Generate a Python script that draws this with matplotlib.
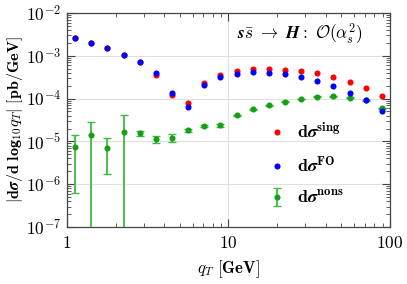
import numpy as np
import matplotlib
matplotlib.use("Agg")
import matplotlib.pyplot as plt

plt.rcParams['mathtext.fontset'] = 'cm'
plt.rcParams['font.family'] = 'serif'
plt.rcParams['font.serif'] = ['DejaVu Serif']

# bin centres in q_T [GeV]
qt = [1.122, 1.413, 1.778, 2.239, 2.818, 3.548, 4.467, 5.623, 7.079, 8.913,
      11.22, 14.13, 17.78, 22.39, 28.18, 35.48, 44.67, 56.23, 70.79, 89.13]

sing = [2.57e-3, 2.0e-3, 1.49e-3, 1.04e-3, 7.0e-4, 3.6e-4, 1.21e-4, 8.0e-5, 2.35e-4, 3.56e-4,
        4.4e-4, 4.8e-4, 4.9e-4, 4.7e-4, 4.3e-4, 3.9e-4, 3.15e-4, 2.5e-4, 1.8e-4, 1.13e-4]

fo = [2.57e-3, 2.0e-3, 1.49e-3, 1.04e-3, 7.0e-4, 3.9e-4, 1.33e-4, 6.2e-5, 2.1e-4, 3.15e-4,
      3.8e-4, 4.1e-4, 4.0e-4, 3.76e-4, 3.25e-4, 2.6e-4, 2.0e-4, 1.37e-4, 9.3e-5, 5.2e-5]

nons = [7.6e-6, 1.4e-5, 7.1e-6, 1.62e-5, 1.54e-5, 1.14e-5, 1.23e-5, 1.85e-5, 2.33e-5, 2.38e-5,
        4.1e-5, 5.6e-5, 7.0e-5, 8.5e-5, 9.8e-5, 1.1e-4, 1.13e-4, 1.05e-4, 9.1e-5, 5.9e-5]

nons_lo = [6.3e-7, 1e-8, 1.76e-6, 1e-8, 1.36e-5, 9.0e-6, 9.9e-6, 1.7e-5, 2.2e-5, 2.15e-5,
           3.95e-5, 5.45e-5, 6.85e-5, 8.35e-5, 9.65e-5, 1.08e-4, 1.11e-4, 1.03e-4, 8.9e-5, 5.7e-5]

nons_hi = [1.4e-5, 2.9e-5, 1.23e-5, 4.1e-5, 1.78e-5, 1.37e-5, 1.46e-5, 2.0e-5, 2.45e-5, 2.6e-5,
           4.25e-5, 5.75e-5, 7.15e-5, 8.65e-5, 9.95e-5, 1.12e-4, 1.15e-4, 1.07e-4, 9.3e-5, 6.1e-5]

red = '#ff0000'
blue = '#0000ff'
green = '#16a016'
green_bar = '#3cbb3c'

fig = plt.figure(figsize=(4.07, 2.84), dpi=100)
ax = fig.add_axes([0.1646, 0.2007, 0.7934, 0.7535])

nons_arr = np.array(nons)
yerr = [nons_arr - np.array(nons_lo), np.array(nons_hi) - nons_arr]

ax.plot(qt, sing, 'o', color=red, ms=4.4, mec='none', label=r'$\mathbf{d}\boldsymbol{\sigma}^{\mathbf{sing}}$', zorder=3)
ax.plot(qt, fo, 'o', color=blue, ms=4.4, mec='none', label=r'$\mathbf{d}\boldsymbol{\sigma}^{\mathbf{FO}}$', zorder=4)
ax.errorbar(qt, nons, yerr=yerr, fmt='o', color=green, ecolor=green_bar, ms=4.4, mec='none',
            elinewidth=1.3, capsize=2.8, capthick=1.0, label=r'$\mathbf{d}\boldsymbol{\sigma}^{\mathbf{nons}}$', zorder=3)

ax.set_xscale('log')
ax.set_yscale('log')
ax.set_xlim(1, 100)
ax.set_ylim(1e-7, 1e-2)

ax.set_xticks([1, 10, 100])
ax.set_xticklabels([r'$\mathbf{1}$', r'$\mathbf{10}$', r'$\mathbf{100}$'])
ax.set_yticks([1e-7, 1e-6, 1e-5, 1e-4, 1e-3, 1e-2])
ax.set_yticklabels([r'$\mathbf{10^{-%d}}$' % k for k in [7, 6, 5, 4, 3, 2]])

ax.grid(True, which='major', color='#e0e0e0', lw=0.8, zorder=0)
ax.tick_params(which='both', direction='in', top=True, right=True, labelsize=12.5, color='#444444')
ax.tick_params(which='major', length=6, width=0.8, pad=6)
ax.tick_params(axis='y', which='major', pad=4)
ax.tick_params(which='minor', length=3, width=0.6)
for s in ax.spines.values():
    s.set_color('#444444')
    s.set_linewidth(0.9)

ax.set_xlabel(r'$\boldsymbol{q_T}\ \mathbf{[GeV]}$', fontsize=12)
ax.set_ylabel(r'$\mathbf{|d}\boldsymbol{\sigma}\mathbf{/d\ log_{10}}\boldsymbol{q_T}\mathbf{|\ [pb/GeV]}$',
              fontsize=11.5, labelpad=1)

ax.text(0.526, 0.905, r'$\boldsymbol{s\bar{s}}\ \boldsymbol{\rightarrow}\ \boldsymbol{H}\mathbf{:}\ \boldsymbol{\mathcal{O}(\alpha_s^2)}$',
        transform=ax.transAxes, ha='left', va='center', fontsize=12.5)

leg = ax.legend(loc='upper left', bbox_to_anchor=(0.622, 0.491), frameon=False, fontsize=13,
                borderaxespad=0, borderpad=0, handletextpad=0.6, labelspacing=0.74, handlelength=1.0)

fig.savefig('out.png', dpi=100)
